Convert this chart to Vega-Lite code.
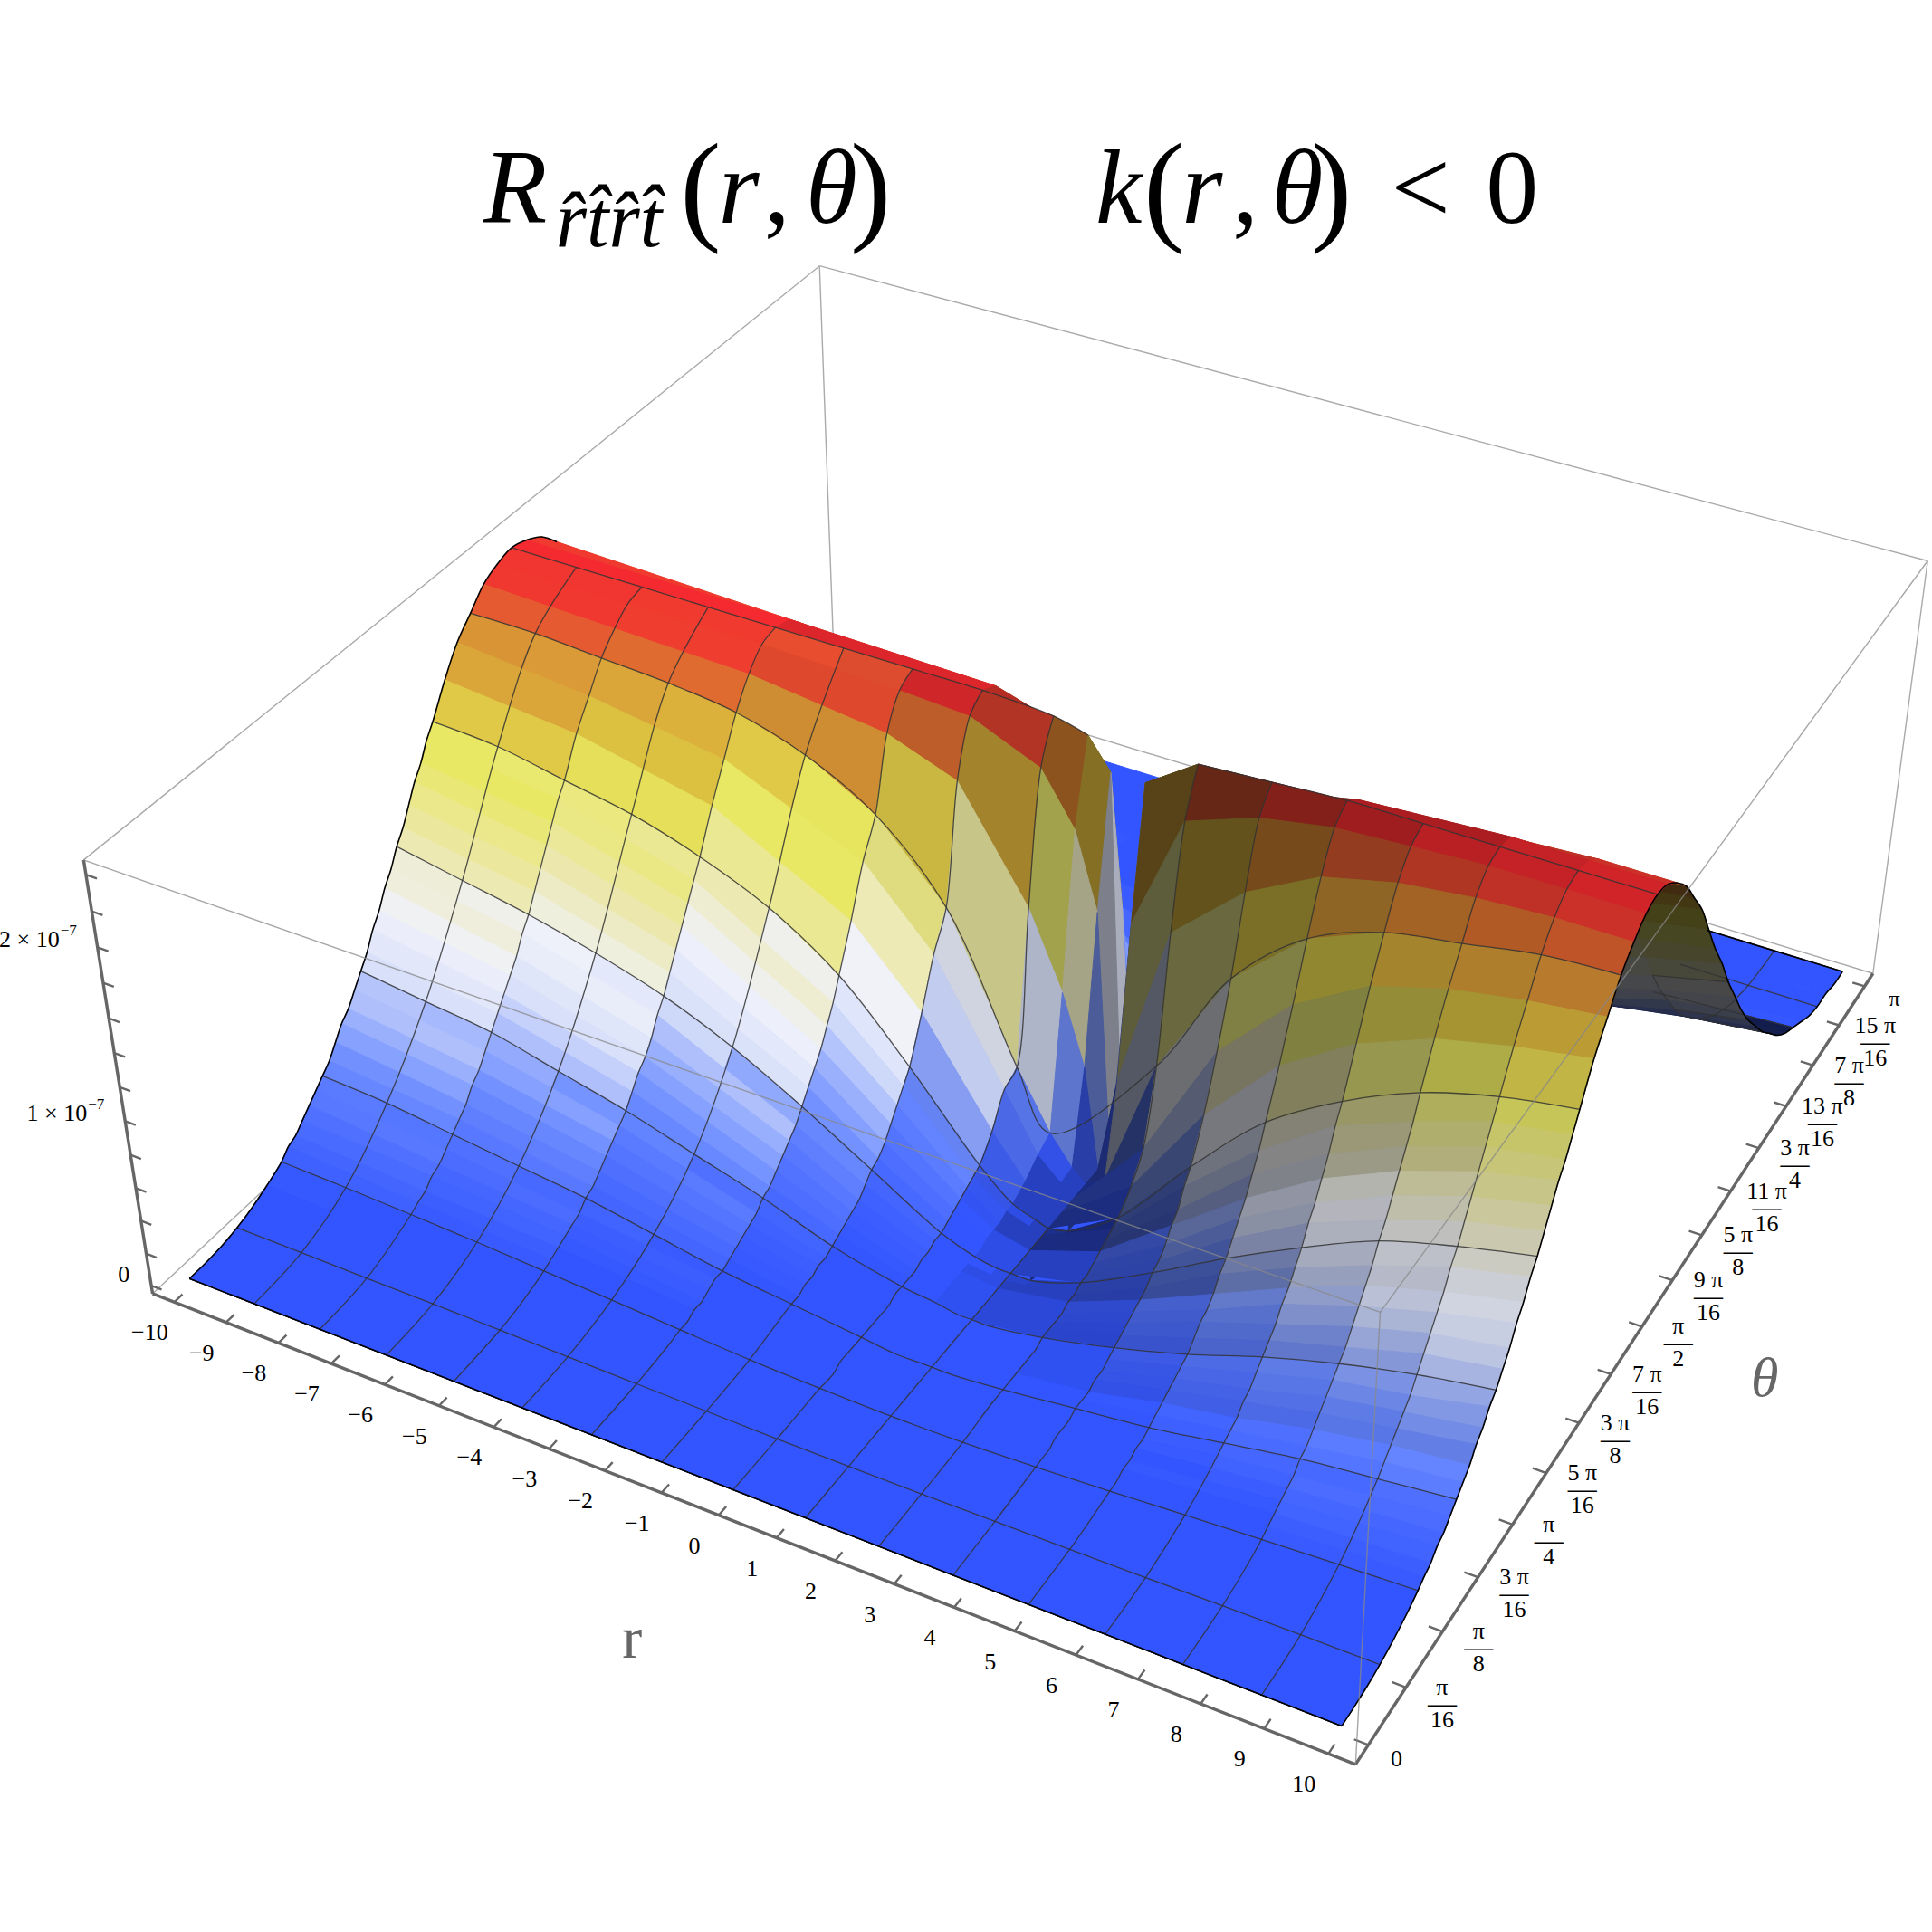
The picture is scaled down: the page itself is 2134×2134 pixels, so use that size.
{"$schema":"https://vega.github.io/schema/vega-lite/v6.json","width":2134,"height":2134,"padding":0,"autosize":"none","background":"white","config":{"view":{"stroke":null}},
"data":{"values":[
{"g":"b","r":-10.42,"t":98,"z":102.08,"r2":-10.42,"t2":-2,"z2":102.08},{"g":"b","r":-10.42,"t":98,"z":102.08,"r2":10.42,"t2":98,"z2":102.08},{"g":"b","r":-10.42,"t":98,"z":102.08,"r2":-10.42,"t2":98,"z2":-2.08},{"g":"b","r":10.42,"t":98,"z":102.08,"r2":10.42,"t2":98,"z2":-2.08},{"g":"b","r":-10.42,"t":98,"z":-2.08,"r2":-10.42,"t2":-2,"z2":-2.08},{"g":"b","r":-10.42,"t":98,"z":-2.08,"r2":10.42,"t2":98,"z2":-2.08},
{"g":"f","r":-10.42,"t":-2,"z":102.08,"r2":10.42,"t2":-2,"z2":102.08},{"g":"f","r":10.42,"t":-2,"z":102.08,"r2":10.42,"t2":98,"z2":102.08},{"g":"f","r":10.42,"t":-2,"z":102.08,"r2":10.42,"t2":-2,"z2":-2.08},
{"g":"a","r":-10.42,"t":-2,"z":-2.08,"r2":10.42,"t2":-2,"z2":-2.08},{"g":"a","r":10.42,"t":-2,"z":-2.08,"r2":10.42,"t2":98,"z2":-2.08},{"g":"a","r":-10.42,"t":-2,"z":-2.08,"r2":-10.42,"t2":-2,"z2":102.08},
{"g":"rl","r":-10,"t":-2,"z":-2.08,"l":"−10"},{"g":"rl","r":-9,"t":-2,"z":-2.08,"l":"−9"},{"g":"rl","r":-8,"t":-2,"z":-2.08,"l":"−8"},{"g":"rl","r":-7,"t":-2,"z":-2.08,"l":"−7"},{"g":"rl","r":-6,"t":-2,"z":-2.08,"l":"−6"},{"g":"rl","r":-5,"t":-2,"z":-2.08,"l":"−5"},{"g":"rl","r":-4,"t":-2,"z":-2.08,"l":"−4"},{"g":"rl","r":-3,"t":-2,"z":-2.08,"l":"−3"},{"g":"rl","r":-2,"t":-2,"z":-2.08,"l":"−2"},{"g":"rl","r":-1,"t":-2,"z":-2.08,"l":"−1"},{"g":"rl","r":0,"t":-2,"z":-2.08,"l":"0"},{"g":"rl","r":1,"t":-2,"z":-2.08,"l":"1"},{"g":"rl","r":2,"t":-2,"z":-2.08,"l":"2"},{"g":"rl","r":3,"t":-2,"z":-2.08,"l":"3"},{"g":"rl","r":4,"t":-2,"z":-2.08,"l":"4"},{"g":"rl","r":5,"t":-2,"z":-2.08,"l":"5"},{"g":"rl","r":6,"t":-2,"z":-2.08,"l":"6"},{"g":"rl","r":7,"t":-2,"z":-2.08,"l":"7"},{"g":"rl","r":8,"t":-2,"z":-2.08,"l":"8"},{"g":"rl","r":9,"t":-2,"z":-2.08,"l":"9"},{"g":"rl","r":10,"t":-2,"z":-2.08,"l":"10"},
{"g":"tl","r":10.42,"t":0,"z":-2.08,"l":"0"},{"g":"tl","r":10.42,"t":6,"z":-2.08,"l":"π","n":"16"},{"g":"tl","r":10.42,"t":12,"z":-2.08,"l":"π","n":"8"},{"g":"tl","r":10.42,"t":18,"z":-2.08,"l":"3 π","n":"16"},{"g":"tl","r":10.42,"t":24,"z":-2.08,"l":"π","n":"4"},{"g":"tl","r":10.42,"t":30,"z":-2.08,"l":"5 π","n":"16"},{"g":"tl","r":10.42,"t":36,"z":-2.08,"l":"3 π","n":"8"},{"g":"tl","r":10.42,"t":42,"z":-2.08,"l":"7 π","n":"16"},{"g":"tl","r":10.42,"t":48,"z":-2.08,"l":"π","n":"2"},{"g":"tl","r":10.42,"t":54,"z":-2.08,"l":"9 π","n":"16"},{"g":"tl","r":10.42,"t":60,"z":-2.08,"l":"5 π","n":"8"},{"g":"tl","r":10.42,"t":66,"z":-2.08,"l":"11 π","n":"16"},{"g":"tl","r":10.42,"t":72,"z":-2.08,"l":"3 π","n":"4"},{"g":"tl","r":10.42,"t":78,"z":-2.08,"l":"13 π","n":"16"},{"g":"tl","r":10.42,"t":84,"z":-2.08,"l":"7 π","n":"8"},{"g":"tl","r":10.42,"t":90,"z":-2.08,"l":"15 π","n":"16"},{"g":"tl","r":10.42,"t":96,"z":-2.08,"l":"π"},
{"g":"zl","r":-10.42,"t":-2,"z":0,"l":"0"},{"g":"zl","r":-10.42,"t":-2,"z":8.2},{"g":"zl","r":-10.42,"t":-2,"z":16.5},{"g":"zl","r":-10.42,"t":-2,"z":24.7},{"g":"zl","r":-10.42,"t":-2,"z":32.9},{"g":"zl","r":-10.42,"t":-2,"z":41.2,"l":"1 × 10","e":"−7"},{"g":"zl","r":-10.42,"t":-2,"z":49.4},{"g":"zl","r":-10.42,"t":-2,"z":57.6},{"g":"zl","r":-10.42,"t":-2,"z":65.8},{"g":"zl","r":-10.42,"t":-2,"z":74.1},{"g":"zl","r":-10.42,"t":-2,"z":82.3,"l":"2 × 10","e":"−7"},{"g":"zl","r":-10.42,"t":-2,"z":90.5},{"g":"zl","r":-10.42,"t":-2,"z":98.8},
{"g":"u","r":-6,"t":94,"z":0,"r2":6,"t2":94,"z2":0,"t0":10},
{"t":96,"r":5,"z":0},{"t":96,"r":7.5,"z":0},{"t":96,"r":8.75,"z":0},{"t":96,"r":10,"z":0},
{"t":94,"r":5,"z":0},{"t":94,"r":10,"z":0},
{"t":92,"r":-5,"z":0},{"t":92,"r":0,"z":0},{"t":92,"r":5,"z":0},{"t":92,"r":7.5,"z":0},{"t":92,"r":10,"z":1},
{"t":90,"r":5,"z":0},{"t":90,"r":7.5,"z":1},{"t":90,"r":8.75,"z":1},{"t":90,"r":10,"z":1},
{"t":88,"r":-5,"z":2},{"t":88,"r":-2.5,"z":1},{"t":88,"r":0,"z":0},{"t":88,"r":2,"z":0},{"t":88,"r":5,"z":1},{"t":88,"r":7.5,"z":2},{"t":88,"r":8.75,"z":2},{"t":88,"r":10,"z":2},
{"t":86,"r":5,"z":1},{"t":86,"r":7.5,"z":3},{"t":86,"r":8.75,"z":3},{"t":86,"r":10,"z":4},
{"t":84,"r":-5,"z":4},{"t":84,"r":-2.5,"z":2},{"t":84,"r":0,"z":0},{"t":84,"r":2,"z":0},{"t":84,"r":5,"z":2,"s":7},{"t":84,"r":7.5,"z":4,"s":7},{"t":84,"r":8.75,"z":5,"s":7},{"t":84,"r":10,"z":6,"s":7},
{"t":82,"r":5,"z":3,"s":7},{"t":82,"r":7.5,"z":6,"s":7},{"t":82,"r":8.75,"z":7,"s":7},{"t":82,"r":10,"z":8,"s":7},
{"t":80,"r":-5,"z":8},{"t":80,"r":-2.5,"z":4},{"t":80,"r":0,"z":1},{"t":80,"r":2,"z":0},{"t":80,"r":5,"z":4,"s":7},{"t":80,"r":7.5,"z":8,"s":7},{"t":80,"r":8.75,"z":10,"s":7},{"t":80,"r":10,"z":11,"s":7},
{"t":78,"r":5,"z":5,"s":7},{"t":78,"r":7.5,"z":11,"s":7},{"t":78,"r":8.75,"z":13,"s":7},{"t":78,"r":10,"z":15,"s":7},
{"t":76,"r":-5,"z":14},{"t":76,"r":-2.5,"z":7},{"t":76,"r":0,"z":1},{"t":76,"r":2,"z":0},{"t":76,"r":5,"z":7,"s":7},{"t":76,"r":7.5,"z":14,"s":7},{"t":76,"r":8.75,"z":17,"s":7},{"t":76,"r":10,"z":19,"s":7},
{"t":74,"r":5,"z":9,"s":7},{"t":74,"r":7.5,"z":18,"s":7},{"t":74,"r":8.75,"z":21,"s":7},{"t":74,"r":10,"z":24,"s":7},
{"t":72,"r":-5,"z":22},{"t":72,"r":-2.5,"z":12},{"t":72,"r":0,"z":2},{"t":72,"r":2,"z":1},{"t":72,"r":5,"z":11,"s":7},{"t":72,"r":7.5,"z":22,"s":7},{"t":72,"r":8.75,"z":26,"s":7},{"t":72,"r":10,"z":29,"s":7},
{"t":70,"r":5,"z":15,"s":7},{"t":70,"r":7.5,"z":27,"s":7},{"t":70,"r":8.75,"z":32,"s":7},{"t":70,"r":10,"z":35,"s":7},
{"t":68,"r":-5,"z":33},{"t":68,"r":-2.5,"z":19},{"t":68,"r":0,"z":3},{"t":68,"r":2,"z":1},{"t":68,"r":5,"z":18,"s":7},{"t":68,"r":7.5,"z":33,"s":7},{"t":68,"r":8.75,"z":38,"s":7},{"t":68,"r":10,"z":42,"s":7},
{"t":66,"r":5,"z":23,"s":7},{"t":66,"r":7.5,"z":40,"s":7},{"t":66,"r":8.75,"z":45,"s":7},{"t":66,"r":10,"z":49,"s":7},
{"t":64,"r":-5,"z":48},{"t":64,"r":-2.5,"z":30},{"t":64,"r":0,"z":6},{"t":64,"r":2,"z":2},{"t":64,"r":5,"z":29,"s":7},{"t":64,"r":7.5,"z":47,"s":7},{"t":64,"r":8.75,"z":53,"s":7},{"t":64,"r":10,"z":57,"s":7},
{"t":62,"r":5,"z":36,"s":7},{"t":62,"r":7.5,"z":55,"s":7},{"t":62,"r":8.75,"z":61,"s":7},{"t":62,"r":10,"z":64,"s":7},
{"t":60,"r":-5,"z":64},{"t":60,"r":-2.5,"z":46},{"t":60,"r":0,"z":10},{"t":60,"r":2,"z":3},{"t":60,"r":5,"z":45,"s":7},{"t":60,"r":7.5,"z":64,"s":7},{"t":60,"r":8.75,"z":69,"s":7},{"t":60,"r":10,"z":72,"s":7},
{"t":58,"r":5,"z":55,"s":7},{"t":58,"r":7.5,"z":73,"s":7},{"t":58,"r":8.75,"z":77,"s":7},{"t":58,"r":10,"z":80,"s":7},
{"t":56,"r":-5,"z":81},{"t":56,"r":-2.5,"z":67},{"t":56,"r":0,"z":22},{"t":56,"r":2,"z":8},{"t":56,"r":5,"z":66,"s":7},{"t":56,"r":7.5,"z":81,"s":7},{"t":56,"r":8.75,"z":84,"s":7},{"t":56,"r":10,"z":86,"s":7},
{"t":54,"r":-10,"z":93},{"t":54,"r":-5,"z":89},{"t":54,"r":-1.25,"z":78,"s":2},{"t":54,"r":0,"z":48,"s":3},{"t":54,"r":0.6,"z":20,"s":4},{"t":54,"r":1.25,"z":0},{"t":54,"r":1.6,"z":4},{"t":54,"r":2.5,"z":42,"s":6},{"t":54,"r":5,"z":78,"s":4},{"t":54,"r":7.5,"z":88,"s":2},{"t":54,"r":8.75,"z":91,"s":2},{"t":54,"r":10,"z":92,"s":1},
{"t":52,"r":-10,"z":97},{"t":52,"r":-5,"z":95},{"t":52,"r":-1.25,"z":92,"s":2},{"t":52,"r":0,"z":75,"s":3},{"t":52,"r":0.6,"z":42,"s":4},{"t":52,"r":1,"z":15},{"t":52,"r":1.25,"z":0},{"t":52,"r":1.6,"z":20},{"t":52,"r":2.5,"z":68,"s":6},{"t":52,"r":5,"z":89,"s":4},{"t":52,"r":7.5,"z":95,"s":2},{"t":52,"r":8.75,"z":96,"s":2},{"t":52,"r":10,"z":96,"s":1},
{"t":50,"r":-10,"z":99},{"t":50,"r":-5,"z":99},{"t":50,"r":-1.25,"z":98,"s":2},{"t":50,"r":0,"z":93,"s":3},{"t":50,"r":0.6,"z":78,"s":4},{"t":50,"r":1,"z":55,"s":5},{"t":50,"r":1.25,"z":0},{"t":50,"r":1.6,"z":55,"s":6},{"t":50,"r":2.5,"z":90,"s":6},{"t":50,"r":5,"z":97,"s":4},{"t":50,"r":7.5,"z":99,"s":2},{"t":50,"r":8.75,"z":99,"s":2},{"t":50,"r":10,"z":99,"s":1},
{"t":48,"r":-10,"z":100},{"t":48,"r":-8.75,"z":100},{"t":48,"r":-7.5,"z":100},{"t":48,"r":-6.25,"z":100},{"t":48,"r":-5,"z":100},{"t":48,"r":-3.75,"z":100},{"t":48,"r":-2.5,"z":100,"s":1},{"t":48,"r":-1.25,"z":100,"s":2},{"t":48,"r":0,"z":99,"s":3},{"t":48,"r":0.6,"z":97,"s":4},{"t":48,"r":1,"z":90,"s":4},{"t":48,"r":1.25,"z":0,"s":5},{"t":48,"r":1.6,"z":90,"s":6},{"t":48,"r":2.5,"z":98,"s":6},{"t":48,"r":3.75,"z":99,"s":5},{"t":48,"r":5,"z":100,"s":4},{"t":48,"r":6.25,"z":100,"s":3},{"t":48,"r":7.5,"z":100,"s":2},{"t":48,"r":8.75,"z":100,"s":2},{"t":48,"r":10,"z":100,"s":1},
{"t":46,"r":-10,"z":99},{"t":46,"r":-7.5,"z":99},{"t":46,"r":-5,"z":99},{"t":46,"r":-2.5,"z":98,"s":1},{"t":46,"r":-1.25,"z":97,"s":2},{"t":46,"r":0,"z":90,"s":3},{"t":46,"r":0.6,"z":78,"s":3},{"t":46,"r":1,"z":60,"s":3},{"t":46,"r":1.25,"z":0,"s":5},{"t":46,"r":1.6,"z":60,"s":6},{"t":46,"r":2.5,"z":88,"s":6},{"t":46,"r":3.75,"z":94,"s":5},{"t":46,"r":5,"z":97,"s":4},{"t":46,"r":6.25,"z":98,"s":3},{"t":46,"r":7.5,"z":99,"s":2},{"t":46,"r":8.75,"z":99,"s":2},{"t":46,"r":10,"z":99,"s":1},
{"t":44,"r":-10,"z":97},{"t":44,"r":-7.5,"z":96},{"t":44,"r":-5,"z":95},{"t":44,"r":-2.5,"z":91,"s":1},{"t":44,"r":-1.25,"z":85,"s":1},{"t":44,"r":0,"z":60,"s":2},{"t":44,"r":0.6,"z":42,"s":2},{"t":44,"r":1,"z":25,"s":2},{"t":44,"r":1.25,"z":0,"s":5},{"t":44,"r":1.6,"z":25,"s":6},{"t":44,"r":2.5,"z":65,"s":6},{"t":44,"r":3.75,"z":80,"s":5},{"t":44,"r":5,"z":89,"s":4},{"t":44,"r":6.25,"z":93,"s":3},{"t":44,"r":7.5,"z":95,"s":2},{"t":44,"r":8.75,"z":96,"s":2},{"t":44,"r":10,"z":96,"s":1},
{"t":42,"r":-10,"z":93},{"t":42,"r":-8.75,"z":93},{"t":42,"r":-7.5,"z":92},{"t":42,"r":-6.25,"z":91},{"t":42,"r":-5,"z":89},{"t":42,"r":-3.75,"z":84},{"t":42,"r":-2.5,"z":75},{"t":42,"r":-1.25,"z":58,"s":1},{"t":42,"r":0,"z":24,"s":1},{"t":42,"r":0.6,"z":10,"s":1},{"t":42,"r":1,"z":3,"s":1},{"t":42,"r":1.25,"z":0,"s":4},{"t":42,"r":1.6,"z":3,"s":6},{"t":42,"r":2.5,"z":36,"s":6},{"t":42,"r":3.75,"z":63,"s":5},{"t":42,"r":5,"z":78,"s":4},{"t":42,"r":6.25,"z":85,"s":3},{"t":42,"r":7.5,"z":88,"s":2},{"t":42,"r":8.75,"z":91,"s":2},{"t":42,"r":10,"z":92,"s":1},
{"t":40,"r":-10,"z":89},{"t":40,"r":-7.5,"z":86},{"t":40,"r":-5,"z":81},{"t":40,"r":-2.5,"z":67},{"t":40,"r":-1.25,"z":50},{"t":40,"r":0,"z":22,"s":1},{"t":40,"r":0.6,"z":8,"s":1},{"t":40,"r":1.25,"z":0,"s":4},{"t":40,"r":2.5,"z":19,"s":6},{"t":40,"r":3.75,"z":49,"s":5},{"t":40,"r":5,"z":66,"s":5},{"t":40,"r":6.25,"z":76,"s":4},{"t":40,"r":7.5,"z":81,"s":3},{"t":40,"r":8.75,"z":84,"s":2},{"t":40,"r":10,"z":86,"s":1},
{"t":38,"r":-10,"z":83},{"t":38,"r":-7.5,"z":80},{"t":38,"r":-5,"z":73},{"t":38,"r":-2.5,"z":56},{"t":38,"r":-1.25,"z":39},{"t":38,"r":0,"z":15,"s":1},{"t":38,"r":0.6,"z":5,"s":1},{"t":38,"r":1.25,"z":0,"s":4},{"t":38,"r":2.5,"z":13,"s":6},{"t":38,"r":3.75,"z":37,"s":5},{"t":38,"r":5,"z":55,"s":5},{"t":38,"r":6.25,"z":66,"s":4},{"t":38,"r":7.5,"z":73,"s":3},{"t":38,"r":8.75,"z":77,"s":2},{"t":38,"r":10,"z":80,"s":1},
{"t":36,"r":-10,"z":76},{"t":36,"r":-8.75,"z":75},{"t":36,"r":-7.5,"z":72},{"t":36,"r":-6.25,"z":69},{"t":36,"r":-5,"z":64},{"t":36,"r":-3.75,"z":57},{"t":36,"r":-2.5,"z":46},{"t":36,"r":-1.25,"z":29},{"t":36,"r":0,"z":10,"s":1},{"t":36,"r":0.6,"z":3,"s":1},{"t":36,"r":1,"z":1,"s":1},{"t":36,"r":1.25,"z":0,"s":4},{"t":36,"r":1.6,"z":1,"s":5},{"t":36,"r":2.5,"z":9,"s":6},{"t":36,"r":3.75,"z":28,"s":5},{"t":36,"r":5,"z":45,"s":5},{"t":36,"r":6.25,"z":56,"s":4},{"t":36,"r":7.5,"z":64,"s":3},{"t":36,"r":8.75,"z":69,"s":2},{"t":36,"r":10,"z":72,"s":1},
{"t":35,"r":-10,"z":73},{"t":35,"r":-7.5,"z":69},{"t":35,"r":-5,"z":60},{"t":35,"r":-2.5,"z":41},{"t":35,"r":-1.25,"z":26},{"t":35,"r":0,"z":9},{"t":35,"r":0.6,"z":3,"s":1},{"t":35,"r":1.25,"z":0,"s":4},{"t":35,"r":2.5,"z":8,"s":6},{"t":35,"r":3.75,"z":25,"s":5},{"t":35,"r":5,"z":40,"s":5},{"t":35,"r":6.25,"z":52,"s":4},{"t":35,"r":7.5,"z":59,"s":3},{"t":35,"r":8.75,"z":65,"s":2},{"t":35,"r":10,"z":68,"s":1},
{"t":34,"r":-10,"z":69},{"t":34,"r":-7.5,"z":65},{"t":34,"r":-5,"z":56},{"t":34,"r":-2.5,"z":37},{"t":34,"r":-1.25,"z":23},{"t":34,"r":0,"z":8},{"t":34,"r":0.6,"z":2,"s":1},{"t":34,"r":1.25,"z":0,"s":4},{"t":34,"r":2.5,"z":7,"s":6},{"t":34,"r":3.75,"z":21,"s":5},{"t":34,"r":5,"z":36,"s":5},{"t":34,"r":6.25,"z":47,"s":4},{"t":34,"r":7.5,"z":55,"s":3},{"t":34,"r":8.75,"z":61,"s":2},{"t":34,"r":10,"z":64,"s":1},
{"t":33,"r":-10,"z":66},{"t":33,"r":-7.5,"z":61},{"t":33,"r":-5,"z":52},{"t":33,"r":-2.5,"z":33},{"t":33,"r":-1.25,"z":20},{"t":33,"r":0,"z":7},{"t":33,"r":0.6,"z":2},{"t":33,"r":1.25,"z":0,"s":2},{"t":33,"r":2.5,"z":6,"s":3},{"t":33,"r":3.75,"z":19,"s":4},{"t":33,"r":5,"z":32,"s":4},{"t":33,"r":6.25,"z":43,"s":3},{"t":33,"r":7.5,"z":51,"s":2},{"t":33,"r":8.75,"z":57,"s":2},{"t":33,"r":10,"z":61,"s":1},
{"t":32,"r":-10,"z":62},{"t":32,"r":-7.5,"z":57},{"t":32,"r":-5,"z":48},{"t":32,"r":-2.5,"z":30},{"t":32,"r":-1.25,"z":17},{"t":32,"r":0,"z":6},{"t":32,"r":0.6,"z":2},{"t":32,"r":1.25,"z":0,"s":2},{"t":32,"r":2.5,"z":5,"s":3},{"t":32,"r":3.75,"z":16,"s":4},{"t":32,"r":5,"z":29,"s":4},{"t":32,"r":6.25,"z":39,"s":3},{"t":32,"r":7.5,"z":47,"s":2},{"t":32,"r":8.75,"z":53,"s":2},{"t":32,"r":10,"z":57,"s":1},
{"t":31,"r":-10,"z":58},{"t":31,"r":-7.5,"z":53},{"t":31,"r":-5,"z":44},{"t":31,"r":-2.5,"z":27},{"t":31,"r":-1.25,"z":15},{"t":31,"r":0,"z":5},{"t":31,"r":0.6,"z":1},{"t":31,"r":1.25,"z":0,"s":2},{"t":31,"r":2.5,"z":4,"s":3},{"t":31,"r":3.75,"z":14,"s":4},{"t":31,"r":5,"z":26,"s":4},{"t":31,"r":6.25,"z":36,"s":3},{"t":31,"r":7.5,"z":43,"s":2},{"t":31,"r":8.75,"z":49,"s":2},{"t":31,"r":10,"z":53,"s":1},
{"t":30,"r":-10,"z":55},{"t":30,"r":-8.75,"z":52},{"t":30,"r":-7.5,"z":49},{"t":30,"r":-6.25,"z":45},{"t":30,"r":-5,"z":40},{"t":30,"r":-3.75,"z":33},{"t":30,"r":-2.5,"z":24},{"t":30,"r":-1.25,"z":14},{"t":30,"r":0,"z":4},{"t":30,"r":0.6,"z":1},{"t":30,"r":1,"z":0},{"t":30,"r":1.25,"z":0,"s":2},{"t":30,"r":1.6,"z":0,"s":2},{"t":30,"r":2.5,"z":4,"s":3},{"t":30,"r":3.75,"z":13,"s":4},{"t":30,"r":5,"z":23,"s":4},{"t":30,"r":6.25,"z":32,"s":3},{"t":30,"r":7.5,"z":40,"s":2},{"t":30,"r":8.75,"z":45,"s":2},{"t":30,"r":10,"z":49,"s":1},
{"t":29,"r":-10,"z":51},{"t":29,"r":-7.5,"z":46},{"t":29,"r":-5,"z":37},{"t":29,"r":-2.5,"z":21},{"t":29,"r":-1.25,"z":12},{"t":29,"r":0,"z":4},{"t":29,"r":0.6,"z":1},{"t":29,"r":1.25,"z":0,"s":2},{"t":29,"r":2.5,"z":3,"s":3},{"t":29,"r":3.75,"z":11,"s":4},{"t":29,"r":5,"z":21,"s":4},{"t":29,"r":6.25,"z":29,"s":3},{"t":29,"r":7.5,"z":36,"s":2},{"t":29,"r":8.75,"z":42,"s":2},{"t":29,"r":10,"z":46,"s":1},
{"t":28,"r":-10,"z":48},{"t":28,"r":-7.5,"z":42},{"t":28,"r":-5,"z":33},{"t":28,"r":-2.5,"z":19},{"t":28,"r":-1.25,"z":10},{"t":28,"r":0,"z":3},{"t":28,"r":0.6,"z":1},{"t":28,"r":1.25,"z":0,"s":1},{"t":28,"r":2.5,"z":3,"s":2},{"t":28,"r":3.75,"z":10,"s":2},{"t":28,"r":5,"z":18,"s":2},{"t":28,"r":6.25,"z":26,"s":2},{"t":28,"r":7.5,"z":33,"s":2},{"t":28,"r":8.75,"z":38,"s":1},{"t":28,"r":10,"z":42,"s":1},
{"t":27,"r":-10,"z":44},{"t":27,"r":-7.5,"z":39},{"t":27,"r":-5,"z":30},{"t":27,"r":-2.5,"z":17},{"t":27,"r":-1.25,"z":9},{"t":27,"r":0,"z":3},{"t":27,"r":0.6,"z":1},{"t":27,"r":1.25,"z":0,"s":1},{"t":27,"r":2.5,"z":2,"s":2},{"t":27,"r":3.75,"z":9,"s":2},{"t":27,"r":5,"z":16,"s":2},{"t":27,"r":6.25,"z":24,"s":2},{"t":27,"r":7.5,"z":30,"s":2},{"t":27,"r":8.75,"z":35,"s":1},{"t":27,"r":10,"z":39,"s":1},
{"t":26,"r":-10,"z":41},{"t":26,"r":-7.5,"z":36},{"t":26,"r":-5,"z":28},{"t":26,"r":-2.5,"z":15},{"t":26,"r":-1.25,"z":8},{"t":26,"r":0,"z":2},{"t":26,"r":0.6,"z":1},{"t":26,"r":1.25,"z":0,"s":1},{"t":26,"r":2.5,"z":2,"s":2},{"t":26,"r":3.75,"z":8,"s":2},{"t":26,"r":5,"z":15,"s":2},{"t":26,"r":6.25,"z":21,"s":2},{"t":26,"r":7.5,"z":27,"s":2},{"t":26,"r":8.75,"z":32,"s":1},{"t":26,"r":10,"z":35,"s":1},
{"t":25,"r":-10,"z":37},{"t":25,"r":-7.5,"z":33},{"t":25,"r":-5,"z":25},{"t":25,"r":-2.5,"z":13},{"t":25,"r":-1.25,"z":7},{"t":25,"r":0,"z":2},{"t":25,"r":0.6,"z":1},{"t":25,"r":1.25,"z":0,"s":1},{"t":25,"r":2.5,"z":2,"s":2},{"t":25,"r":3.75,"z":7,"s":2},{"t":25,"r":5,"z":13,"s":2},{"t":25,"r":6.25,"z":19,"s":2},{"t":25,"r":7.5,"z":24,"s":2},{"t":25,"r":8.75,"z":29,"s":1},{"t":25,"r":10,"z":32,"s":1},
{"t":24,"r":-10,"z":34},{"t":24,"r":-8.75,"z":32},{"t":24,"r":-7.5,"z":30},{"t":24,"r":-6.25,"z":26},{"t":24,"r":-5,"z":22},{"t":24,"r":-3.75,"z":17},{"t":24,"r":-2.5,"z":12},{"t":24,"r":-1.25,"z":6},{"t":24,"r":0,"z":2},{"t":24,"r":0.6,"z":1},{"t":24,"r":1,"z":0},{"t":24,"r":1.25,"z":0},{"t":24,"r":1.6,"z":0},{"t":24,"r":2.5,"z":2},{"t":24,"r":3.75,"z":6,"s":1},{"t":24,"r":5,"z":11,"s":1},{"t":24,"r":6.25,"z":17,"s":1},{"t":24,"r":7.5,"z":22,"s":1},{"t":24,"r":8.75,"z":26,"s":1},{"t":24,"r":10,"z":29,"s":1},
{"t":23,"r":-10,"z":31},{"t":23,"r":-7.5,"z":27},{"t":23,"r":-5,"z":20},{"t":23,"r":-2.5,"z":10},{"t":23,"r":-1.25,"z":5},{"t":23,"r":0,"z":2},{"t":23,"r":1.25,"z":0},{"t":23,"r":2.5,"z":1},{"t":23,"r":3.75,"z":5,"s":1},{"t":23,"r":5,"z":10,"s":1},{"t":23,"r":6.25,"z":15,"s":1},{"t":23,"r":7.5,"z":20,"s":1},{"t":23,"r":8.75,"z":23,"s":1},{"t":23,"r":10,"z":27,"s":1},
{"t":22,"r":-10,"z":28},{"t":22,"r":-7.5,"z":24},{"t":22,"r":-5,"z":18},{"t":22,"r":-2.5,"z":9},{"t":22,"r":-1.25,"z":5},{"t":22,"r":0,"z":1},{"t":22,"r":1.25,"z":0},{"t":22,"r":2.5,"z":1},{"t":22,"r":3.75,"z":4,"s":1},{"t":22,"r":5,"z":9,"s":1},{"t":22,"r":6.25,"z":13,"s":1},{"t":22,"r":7.5,"z":18,"s":1},{"t":22,"r":8.75,"z":21,"s":1},{"t":22,"r":10,"z":24,"s":1},
{"t":21,"r":-10,"z":26},{"t":21,"r":-7.5,"z":22},{"t":21,"r":-5,"z":16},{"t":21,"r":-2.5,"z":8},{"t":21,"r":-1.25,"z":4},{"t":21,"r":0,"z":1},{"t":21,"r":1.25,"z":0},{"t":21,"r":2.5,"z":1},{"t":21,"r":3.75,"z":4,"s":1},{"t":21,"r":5,"z":8,"s":1},{"t":21,"r":6.25,"z":12,"s":1},{"t":21,"r":7.5,"z":16,"s":1},{"t":21,"r":8.75,"z":19,"s":1},{"t":21,"r":10,"z":22,"s":1},
{"t":20,"r":-10,"z":23},{"t":20,"r":-7.5,"z":19},{"t":20,"r":-5,"z":14},{"t":20,"r":-2.5,"z":7},{"t":20,"r":-1.25,"z":4},{"t":20,"r":0,"z":1},{"t":20,"r":1.25,"z":0},{"t":20,"r":2.5,"z":1},{"t":20,"r":3.75,"z":3},{"t":20,"r":5,"z":7},{"t":20,"r":6.25,"z":10},{"t":20,"r":7.5,"z":14},{"t":20,"r":8.75,"z":17},{"t":20,"r":10,"z":19},
{"t":19,"r":-10,"z":20},{"t":19,"r":-7.5,"z":17},{"t":19,"r":-5,"z":12},{"t":19,"r":-2.5,"z":6},{"t":19,"r":-1.25,"z":3},{"t":19,"r":0,"z":1},{"t":19,"r":1.25,"z":0},{"t":19,"r":2.5,"z":1},{"t":19,"r":3.75,"z":3},{"t":19,"r":5,"z":6},{"t":19,"r":6.25,"z":9},{"t":19,"r":7.5,"z":12},{"t":19,"r":8.75,"z":15},{"t":19,"r":10,"z":17},
{"t":18,"r":-10,"z":18},{"t":18,"r":-8.75,"z":17},{"t":18,"r":-7.5,"z":15},{"t":18,"r":-6.25,"z":13},{"t":18,"r":-5,"z":11},{"t":18,"r":-3.75,"z":8},{"t":18,"r":-2.5,"z":5},{"t":18,"r":-1.25,"z":3},{"t":18,"r":0,"z":1},{"t":18,"r":0.6,"z":0},{"t":18,"r":1,"z":0},{"t":18,"r":1.25,"z":0},{"t":18,"r":1.6,"z":0},{"t":18,"r":2.5,"z":1},{"t":18,"r":3.75,"z":3},{"t":18,"r":5,"z":5},{"t":18,"r":6.25,"z":8},{"t":18,"r":7.5,"z":11},{"t":18,"r":8.75,"z":13},{"t":18,"r":10,"z":15},
{"t":17,"r":-10,"z":16},{"t":17,"r":-7.5,"z":13},{"t":17,"r":-5,"z":9},{"t":17,"r":-2.5,"z":5},{"t":17,"r":0,"z":1},{"t":17,"r":1.25,"z":0},{"t":17,"r":2.5,"z":1},{"t":17,"r":3.75,"z":2},{"t":17,"r":5,"z":4},{"t":17,"r":6.25,"z":7},{"t":17,"r":7.5,"z":9},{"t":17,"r":10,"z":13},
{"t":16,"r":-10,"z":14},{"t":16,"r":-7.5,"z":11},{"t":16,"r":-5,"z":8},{"t":16,"r":-2.5,"z":4},{"t":16,"r":0,"z":1},{"t":16,"r":1.25,"z":0},{"t":16,"r":2.5,"z":1},{"t":16,"r":3.75,"z":2},{"t":16,"r":5,"z":4},{"t":16,"r":6.25,"z":6},{"t":16,"r":7.5,"z":8},{"t":16,"r":10,"z":11},
{"t":15,"r":-10,"z":12},{"t":15,"r":-7.5,"z":10},{"t":15,"r":-5,"z":7},{"t":15,"r":-2.5,"z":3},{"t":15,"r":0,"z":1},{"t":15,"r":1.25,"z":0},{"t":15,"r":3.75,"z":2},{"t":15,"r":5,"z":3},{"t":15,"r":7.5,"z":7},{"t":15,"r":10,"z":10},
{"t":14,"r":-10,"z":10},{"t":14,"r":-7.5,"z":8},{"t":14,"r":-5,"z":6},{"t":14,"r":-2.5,"z":3},{"t":14,"r":0,"z":0},{"t":14,"r":1.25,"z":0},{"t":14,"r":3.75,"z":1},{"t":14,"r":5,"z":3},{"t":14,"r":7.5,"z":6},{"t":14,"r":10,"z":8},
{"t":13,"r":-10,"z":9},{"t":13,"r":-7.5,"z":7},{"t":13,"r":-5,"z":5},{"t":13,"r":-2.5,"z":2},{"t":13,"r":0,"z":0},{"t":13,"r":1.25,"z":0},{"t":13,"r":3.75,"z":1},{"t":13,"r":5,"z":2},{"t":13,"r":7.5,"z":5},{"t":13,"r":10,"z":7},
{"t":12,"r":-10,"z":7},{"t":12,"r":-8.75,"z":6.5},{"t":12,"r":-7.5,"z":5.8},{"t":12,"r":-6.25,"z":5},{"t":12,"r":-5,"z":4},{"t":12,"r":-3.75,"z":3},{"t":12,"r":-2.5,"z":1.9},{"t":12,"r":-1.25,"z":0.9},{"t":12,"r":0,"z":0.3},{"t":12,"r":1.25,"z":0},{"t":12,"r":2.5,"z":0.2},{"t":12,"r":3.75,"z":0.9},{"t":12,"r":5,"z":1.8},{"t":12,"r":6.25,"z":2.9},{"t":12,"r":7.5,"z":3.9},{"t":12,"r":8.75,"z":4.9},{"t":12,"r":10,"z":5.7},
{"t":10,"r":-10,"z":4.7},{"t":10,"r":-5,"z":2.6},{"t":10,"r":-2.5,"z":1.2},{"t":10,"r":0,"z":0.2},{"t":10,"r":1.25,"z":0},{"t":10,"r":5,"z":1.2},{"t":10,"r":7.5,"z":2.5},{"t":10,"r":10,"z":3.7},
{"t":8,"r":-10,"z":2.8},{"t":8,"r":-5,"z":1.5},{"t":8,"r":0,"z":0.1},{"t":8,"r":1.25,"z":0},{"t":8,"r":5,"z":0.7},{"t":8,"r":10,"z":2.2},
{"t":6,"r":-10,"z":1.4},{"t":6,"r":-8.75,"z":1.3},{"t":6,"r":-7.5,"z":1.1},{"t":6,"r":-6.25,"z":1},{"t":6,"r":-5,"z":0.8},{"t":6,"r":-3.75,"z":0.6},{"t":6,"r":-2.5,"z":0.4},{"t":6,"r":-1.25,"z":0.2},{"t":6,"r":0,"z":0},{"t":6,"r":1.25,"z":0},{"t":6,"r":2.5,"z":0},{"t":6,"r":3.75,"z":0.2},{"t":6,"r":5,"z":0.3},{"t":6,"r":6.25,"z":0.5},{"t":6,"r":7.5,"z":0.8},{"t":6,"r":8.75,"z":1},{"t":6,"r":10,"z":1.1},
{"t":4,"r":-10,"z":0.5},{"t":4,"r":10,"z":0.4},
{"t":2,"r":-10,"z":0.1},{"t":2,"r":10,"z":0.1},
{"t":0,"r":-10,"z":0},{"t":0,"r":-8.75,"z":0},{"t":0,"r":-7.5,"z":0},{"t":0,"r":-6.25,"z":0},{"t":0,"r":-5,"z":0},{"t":0,"r":-3.75,"z":0},{"t":0,"r":-2.5,"z":0},{"t":0,"r":-1.25,"z":0},{"t":0,"r":0,"z":0},{"t":0,"r":1.25,"z":0},{"t":0,"r":2.5,"z":0},{"t":0,"r":3.75,"z":0},{"t":0,"r":5,"z":0},{"t":0,"r":6.25,"z":0},{"t":0,"r":7.5,"z":0},{"t":0,"r":8.75,"z":0},{"t":0,"r":10,"z":0}
]},
"transform":[
{"window":[{"op":"lead","field":"t","as":"nt"},{"op":"lead","field":"z","as":"nz"}],"groupby":["g","r"]},
{"window":[{"op":"lead","field":"r","as":"lr"},{"op":"lead","field":"z","as":"lz"},{"op":"lead","field":"s","as":"ls"},{"op":"lead","field":"nt","as":"lnt"},{"op":"lead","field":"nz","as":"lnz"}],"groupby":["g","t"]},
{"calculate":"indexof(['rl','tl','zl'],datum.g)","as":"h"},
{"calculate":".5+.048*datum.r","as":"u"},{"calculate":".02+.01*datum.t","as":"v"},{"calculate":".02+.0096*datum.z","as":"w"},
{"calculate":"1-.111*datum.u+.213*datum.v-.0701*datum.w","as":"dn"},
{"calculate":"(124+853.9*datum.u+697.1*datum.v-60.77*datum.w)/datum.dn","as":"px"},
{"calculate":"(1050+223*datum.u-402.4*datum.v-400.95*datum.w)/datum.dn","as":"py"},
{"calculate":"datum.h==0?datum.r:datum.h==1?datum.r-.22:datum.h==2?datum.r+.2:datum.g?datum.r2:datum.lr","as":"R"},
{"calculate":"datum.h==0?datum.t+1:datum.h>0?datum.t:datum.g?datum.t2:datum.t","as":"T"},
{"calculate":"datum.h>=0?datum.z:datum.g?datum.z2:datum.lz","as":"Z"},
{"calculate":".5+.048*datum.R","as":"u2"},{"calculate":".02+.01*datum.T","as":"v2"},{"calculate":".02+.0096*datum.Z","as":"w2"},
{"calculate":"1-.111*datum.u2+.213*datum.v2-.0701*datum.w2","as":"dn2"},
{"calculate":"(124+853.9*datum.u2+697.1*datum.v2-60.77*datum.w2)/datum.dn2","as":"qx"},
{"calculate":"(1050+223*datum.u2-402.4*datum.v2-400.95*datum.w2)/datum.dn2","as":"qy"},
{"calculate":"datum.nt==null?(datum.t0||datum.t):datum.nt","as":"t3"},{"calculate":"datum.nt==null?datum.z:datum.nz","as":"z3"},
{"calculate":"datum.lnt==null?(datum.t0||datum.t):datum.lnt","as":"t4"},{"calculate":"datum.lnt==null?datum.Z:datum.lnz","as":"z4"},
{"calculate":"1-.111*datum.u+.213*(.02+.01*datum.t3)-.0701*(.02+.0096*datum.z3)","as":"dn3"},
{"calculate":"(124+853.9*datum.u+697.1*(.02+.01*datum.t3)-60.77*(.02+.0096*datum.z3))/datum.dn3","as":"ax"},
{"calculate":"(1050+223*datum.u-402.4*(.02+.01*datum.t3)-400.95*(.02+.0096*datum.z3))/datum.dn3","as":"ay"},
{"calculate":"1-.111*datum.u2+.213*(.02+.01*datum.t4)-.0701*(.02+.0096*datum.z4)","as":"dn4"},
{"calculate":"(124+853.9*datum.u2+697.1*(.02+.01*datum.t4)-60.77*(.02+.0096*datum.z4))/datum.dn4","as":"bx"},
{"calculate":"(1050+223*datum.u2-402.4*(.02+.01*datum.t4)-400.95*(.02+.0096*datum.z4))/datum.dn4","as":"by"},
{"calculate":"{type:'Polygon',coordinates:[[[datum.px*1.361,datum.py*1.361],[datum.qx*1.361,datum.qy*1.361],[datum.bx*1.361,datum.by*1.361],[datum.ax*1.361,datum.ay*1.361],[datum.px*1.361,datum.py*1.361]]]}","as":"geo"},
{"calculate":"(datum.z+datum.Z+datum.z3+datum.z4)/4","as":"m"},
{"calculate":"1-((datum.s||0)+(datum.ls||0))/20","as":"k"},
{"calculate":"clamp((datum.m-4)/15,0,1)","as":"a1"},{"calculate":"clamp((datum.m-19)/14,0,1)","as":"a2"},{"calculate":"clamp((datum.m-33)/9,0,1)","as":"a3"},{"calculate":"clamp((datum.m-42)/13,0,1)","as":"a4"},{"calculate":"clamp((datum.m-55)/15,0,1)","as":"a5"},{"calculate":"clamp((datum.m-70)/10,0,1)","as":"a6"},{"calculate":"clamp((datum.m-80)/11,0,1)","as":"a7"},{"calculate":"clamp((datum.m-91)/8,0,1)","as":"a8"},
{"calculate":"'rgb('+round(datum.k*(51+57*datum.a1+108*datum.a2+24*datum.a3-4*datum.a4-4*datum.a5-12*datum.a6-4*datum.a7+29*datum.a8))+','+round(datum.k*(85+55*datum.a1+84*datum.a2+18*datum.a3-10*datum.a4-40*datum.a6-64*datum.a7-86*datum.a8))+','+round(datum.k*(255-5*datum.a2-80*datum.a4-74*datum.a5-32*datum.a6-16*datum.a7))+')'","as":"c"},
{"calculate":"datum.t==48&&datum.r>1.3?1:0","as":"sd"},
{"calculate":"abs(datum.r/1.25-round(datum.r/1.25))<.001","as":"mr"},
{"calculate":"datum.t%6==0","as":"mt"}
],
"layer":[
{"encoding":{"x":{"field":"px","type":"quantitative","scale":{"domain":[0,1568]},"axis":null},"y":{"field":"py","type":"quantitative","scale":{"domain":[1568,0]},"axis":null},"x2":{"field":"qx"},"y2":{"field":"qy"}},"layer":[
{"transform":[{"filter":"datum.g=='b'"}],"mark":{"type":"rule","stroke":"#aaaaaa","strokeWidth":1.4}},
{"transform":[{"filter":"datum.g=='a'"}],"mark":{"type":"rule","stroke":"#666666","strokeWidth":3.4}},
{"transform":[{"filter":"datum.h>=0"}],"mark":{"type":"rule","stroke":"#666666","strokeWidth":2.4}}
]},
{"transform":[{"filter":"(!datum.g&&isValid(datum.lr))||datum.g=='u'"}],"projection":{"type":"identity","scale":1,"translate":[0,0]},"mark":{"type":"geoshape","strokeWidth":1},"encoding":{"shape":{"field":"geo","type":"geojson"},"fill":{"field":"c","type":"nominal","scale":null},"stroke":{"field":"c","type":"nominal","scale":null}}},
{"encoding":{"x":{"field":"px","type":"quantitative","scale":{"domain":[0,1568]},"axis":null},"y":{"field":"py","type":"quantitative","scale":{"domain":[1568,0]},"axis":null}},"layer":[
{"transform":[{"filter":"!datum.g&&datum.mt&&(datum.t<42||(datum.t<=48&&(datum.r<=0.6||datum.r>=2.5))||(datum.t>=66&&datum.t<=78&&datum.r>=8.75)||(datum.t>=84&&datum.r>=7.5))"}],"mark":{"type":"line","interpolate":"catmull-rom","stroke":"#333333","strokeWidth":1.3,"strokeOpacity":0.85},"encoding":{"detail":[{"field":"t"},{"field":"sd"}],"order":{"field":"r"}}},
{"transform":[{"filter":"!datum.g&&datum.mr&&abs(datum.r)<10&&datum.t<=48&&(datum.r!=1.25||datum.t<=36)"}],"mark":{"type":"line","interpolate":"catmull-rom","stroke":"#333333","strokeWidth":1.3,"strokeOpacity":0.85},"encoding":{"detail":{"field":"r"},"order":{"field":"t"}}},
{"transform":[{"filter":"!datum.g&&datum.r==8.75&&datum.t>=66"}],"mark":{"type":"line","interpolate":"catmull-rom","stroke":"#333333","strokeWidth":1.3,"strokeOpacity":0.85},"encoding":{"order":{"field":"t"}}},
{"transform":[{"filter":"!datum.g&&(datum.r==10||(datum.r==-10&&datum.t<=54))"}],"mark":{"type":"line","interpolate":"catmull-rom","stroke":"#000000","strokeWidth":1.6},"encoding":{"detail":{"field":"r"},"order":{"field":"t"}}},
{"transform":[{"filter":"!datum.g&&(datum.t==0||(datum.t==96&&datum.r>=7.5))"}],"mark":{"type":"line","stroke":"#000000","strokeWidth":1.6},"encoding":{"detail":{"field":"t"},"order":{"field":"r"}}},
{"transform":[{"filter":"datum.g=='f'"}],"mark":{"type":"rule","stroke":"#888888","strokeWidth":1.4,"opacity":0.75},"encoding":{"x2":{"field":"qx"},"y2":{"field":"qy"}}},
{"transform":[{"filter":"datum.g=='rl'"}],"mark":{"type":"text","font":"Liberation Serif","fontSize":26,"dx":-27,"dy":34,"baseline":"middle","align":"center","color":"#000000"},"encoding":{"text":{"field":"l"}}},
{"transform":[{"filter":"datum.g=='tl'&&datum.t>0&&datum.t<96"}],"mark":{"type":"text","font":"Liberation Serif","fontSize":26,"dx":40,"dy":0,"baseline":"middle","align":"center","color":"#000000"},"encoding":{"text":{"field":"l"}}},
{"transform":[{"filter":"datum.g=='tl'&&datum.t>0&&datum.t<96"}],"mark":{"type":"text","font":"Liberation Serif","fontSize":26,"dx":40,"dy":36,"baseline":"middle","align":"center","color":"#000000"},"encoding":{"text":{"field":"n"}}},
{"transform":[{"filter":"datum.g=='tl'&&datum.t>0&&datum.t<96"}],"mark":{"type":"text","font":"Liberation Serif","fontSize":32,"dx":40,"dy":18,"baseline":"middle","align":"center","color":"#000000","text":"—"}},
{"transform":[{"filter":"datum.g=='tl'&&datum.t==0"}],"mark":{"type":"text","font":"Liberation Serif","fontSize":26,"dx":31,"dy":16,"baseline":"middle","align":"center","color":"#000000"},"encoding":{"text":{"field":"l"}}},
{"transform":[{"filter":"datum.g=='tl'&&datum.t==96"}],"mark":{"type":"text","font":"Liberation Serif","fontSize":24,"dx":33,"dy":15,"baseline":"middle","align":"center","color":"#000000"},"encoding":{"text":{"field":"l"}}},
{"transform":[{"filter":"datum.g=='zl'&&datum.z>0&&datum.l"}],"mark":{"type":"text","font":"Liberation Serif","fontSize":26,"dx":-42,"dy":-8,"baseline":"middle","align":"right","color":"#000000"},"encoding":{"text":{"field":"l"}}},
{"transform":[{"filter":"datum.g=='zl'&&datum.z>0&&datum.l"}],"mark":{"type":"text","font":"Liberation Serif","fontSize":17,"dx":-41,"dy":-18,"baseline":"middle","align":"left","color":"#000000"},"encoding":{"text":{"field":"e"}}},
{"transform":[{"filter":"datum.g=='zl'&&datum.z==0"}],"mark":{"type":"text","font":"Liberation Serif","fontSize":26,"dx":-24,"dy":-12,"baseline":"middle","align":"right","color":"#000000"},"encoding":{"text":{"field":"l"}}},
{"data":{"values":[{"s":"R","px":392,"py":181},{"s":"r","px":583,"py":181},{"s":"θ","px":654,"py":181},{"s":"k","px":889,"py":181},{"s":"r","px":959,"py":181},{"s":"θ","px":1032,"py":181}]},"mark":{"type":"text","font":"Liberation Serif","fontStyle":"italic","fontSize":116,"align":"left","baseline":"alphabetic","color":"#000000"},"encoding":{"text":{"field":"s"}}},
{"data":{"values":[{"s":",","px":620,"py":181},{"s":",","px":1000,"py":181},{"s":"<","px":1129,"py":181},{"s":"0","px":1206,"py":181}]},"mark":{"type":"text","font":"Liberation Serif","fontSize":116,"align":"left","baseline":"alphabetic","color":"#000000"},"encoding":{"text":{"field":"s"}}},
{"data":{"values":[{"s":"(","px":552,"py":185},{"s":")","px":690,"py":185},{"s":"(","px":928,"py":185},{"s":")","px":1064,"py":185}]},"mark":{"type":"text","font":"Liberation Serif","fontSize":136,"align":"left","baseline":"alphabetic","color":"#000000"},"encoding":{"text":{"field":"s"}}},
{"data":{"values":[{"s":"r̂t̂r̂t̂","px":451,"py":200}]},"mark":{"type":"text","font":"Liberation Serif","fontStyle":"italic","fontSize":88,"align":"left","baseline":"alphabetic","color":"#000000"},"encoding":{"text":{"field":"s"}}},
{"data":{"values":[{"s":"r","px":505,"py":1345}]},"mark":{"type":"text","font":"Liberation Serif","fontSize":66,"align":"left","baseline":"alphabetic","color":"#666666"},"encoding":{"text":{"field":"s"}}},
{"data":{"values":[{"s":"θ","px":1421,"py":1133}]},"mark":{"type":"text","font":"Liberation Serif","fontStyle":"italic","fontSize":62,"align":"left","baseline":"alphabetic","color":"#666666"},"encoding":{"text":{"field":"s"}}}
]}
]}
